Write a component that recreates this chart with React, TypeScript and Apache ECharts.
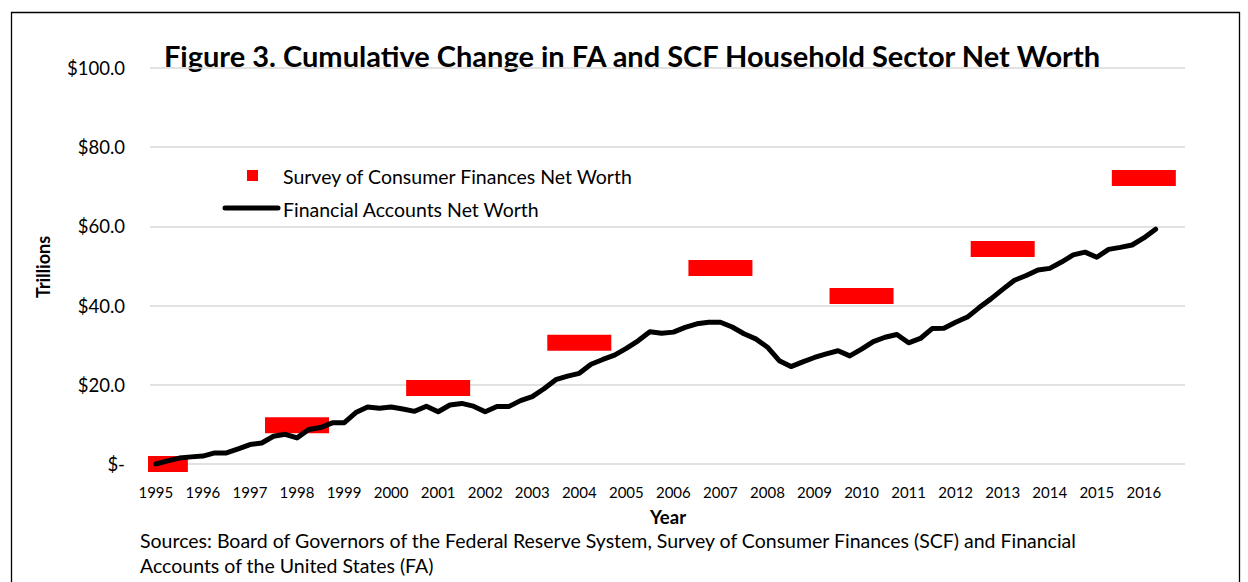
import React, { useEffect, useRef } from 'react';
import * as echarts from 'echarts';

const years = [
  '1995', '1996', '1997', '1998', '1999', '2000', '2001', '2002', '2003', '2004', '2005',
  '2006', '2007', '2008', '2009', '2010', '2011', '2012', '2013', '2014', '2015', '2016',
];
const quarterNames = ['Q1', 'Q2', 'Q3', 'Q4'];
const categories = years.flatMap((y) => quarterNames.map((q) => `${y}${q}`));

// Financial Accounts cumulative change in net worth, quarterly from 1995Q1 ($ trillions)
const faValues = [
  0, 0.8, 1.5, 1.8, 2.0, 2.8, 2.8, 3.8, 4.9, 5.3, 7.0, 7.5,
  6.6, 8.7, 9.2, 10.4, 10.4, 13.0, 14.4, 14.1, 14.4, 13.9, 13.3, 14.6,
  13.2, 14.9, 15.3, 14.6, 13.2, 14.5, 14.5, 16.0, 17.0, 19.0, 21.3, 22.2,
  22.9, 25.2, 26.4, 27.5, 29.2, 31.1, 33.4, 33.0, 33.3, 34.5, 35.4, 35.8,
  35.8, 34.6, 32.9, 31.6, 29.5, 26.1, 24.6, 25.8, 26.9, 27.8, 28.6, 27.3,
  29.0, 30.9, 32.0, 32.7, 30.6, 31.7, 34.2, 34.3, 35.8, 37.1, 39.5, 41.7,
  44.1, 46.4, 47.6, 49.0, 49.4, 51.0, 52.8, 53.5, 52.2, 54.2, 54.7, 55.3,
  57.1, 59.3,
];

// Survey of Consumer Finances cumulative change in net worth ($ trillions)
const scfYears = ['1995', '1998', '2001', '2004', '2007', '2010', '2013', '2016'];
const scfValues = [0, 9.8, 19.2, 30.6, 49.5, 42.4, 54.3, 72.2];

const yMin = 0;
const yMax = 100;
const yStep = 20;

const titleText = 'Figure 3. Cumulative Change in FA and SCF Household Sector Net Worth';
const scfName = 'Survey of Consumer Finances Net Worth';
const faName = 'Financial Accounts Net Worth';
const yName = 'Trillions';
const xName = 'Year';
const sourceLines = [
  'Sources: Board of Governors of the Federal Reserve System, Survey of Consumer Finances (SCF) and Financial',
  'Accounts of the United States (FA)',
];

const FONT = 'Lato, "Open Sans", sans-serif';

export default function App() {
  const ref = useRef<HTMLDivElement>(null);

  useEffect(() => {
    const chart = echarts.init(ref.current as HTMLDivElement, null, { renderer: 'svg' });
    const scfData = scfYears.map((y, k) => [categories.indexOf(y + 'Q1'), scfValues[k]]);

    chart.setOption({
      animation: false,
      backgroundColor: '#ffffff',
      grid: { left: 150, right: 63, top: 68, bottom: 118, containLabel: false },
      xAxis: {
        type: 'category',
        data: categories,
        boundaryGap: true,
        axisLine: { show: false },
        axisTick: { show: false },
        splitLine: { show: false },
        axisLabel: {
          interval: 3,
          formatter: (v: string) => v.slice(0, 4),
          fontFamily: FONT,
          fontSize: 15,
          color: '#000',
          margin: 20,
        },
      },
      yAxis: {
        type: 'value',
        min: yMin,
        max: yMax,
        interval: yStep,
        axisLine: { show: false },
        axisTick: { show: false },
        axisLabel: {
          formatter: (v: number) => (v === 0 ? '$-' : '$' + v.toFixed(1)),
          fontFamily: FONT,
          fontSize: 18.5,
          color: '#000',
          margin: 25,
        },
        splitLine: { lineStyle: { color: '#d9d9d9', width: 1.5 } },
      },
      series: [
        {
          name: scfName,
          type: 'custom',
          data: scfData,
          encode: { x: 0, y: 1 },
          z: 2,
          renderItem: (params: any, api: any) => {
            const c = api.coord([api.value(0), api.value(1)]);
            const cs = params.coordSys;
            const shape = echarts.graphic.clipRectByRect(
              { x: c[0] - 32, y: c[1] - 8, width: 64, height: 16 },
              { x: cs.x - 2, y: cs.y - 10, width: cs.width + 4, height: cs.height + 20 }
            );
            if (!shape) return null;
            return { type: 'rect', shape, style: { fill: '#ff0000' } };
          },
        },
        {
          name: faName,
          type: 'line',
          data: faValues,
          symbol: 'none',
          z: 3,
          lineStyle: { color: '#000000', width: 5, join: 'round', cap: 'round' },
        },
      ],
      graphic: [
        {
          type: 'rect',
          shape: { x: 11.5, y: 12.5, width: 1228, height: 640 },
          style: { fill: 'none', stroke: '#000', lineWidth: 1.3 },
          z: 10,
        },
        {
          type: 'text',
          x: 632,
          y: 55,
          style: {
            text: titleText,
            fontFamily: FONT,
            fontSize: 29,
            fontWeight: 'bold',
            fill: '#000',
            align: 'center',
            verticalAlign: 'middle',
          },
        },
        {
          type: 'rect',
          shape: { x: 247, y: 170, width: 11, height: 11 },
          style: { fill: '#ff0000' },
        },
        {
          type: 'text',
          x: 283,
          y: 176,
          style: { text: scfName, fontFamily: FONT, fontSize: 19.5, fill: '#000', align: 'left', verticalAlign: 'middle' },
        },
        {
          type: 'line',
          shape: { x1: 225, y1: 208, x2: 278, y2: 208 },
          style: { stroke: '#000', lineWidth: 5, lineCap: 'round' },
        },
        {
          type: 'text',
          x: 283,
          y: 209,
          style: { text: faName, fontFamily: FONT, fontSize: 19.5, fill: '#000', align: 'left', verticalAlign: 'middle' },
        },
        {
          type: 'text',
          x: 43,
          y: 267,
          rotation: Math.PI / 2,
          style: {
            text: yName,
            fontFamily: FONT,
            fontSize: 18,
            fontWeight: 'bold',
            fill: '#000',
            align: 'center',
            verticalAlign: 'middle',
          },
        },
        {
          type: 'text',
          x: 668,
          y: 517,
          style: {
            text: xName,
            fontFamily: FONT,
            fontSize: 18.5,
            fontWeight: 'bold',
            fill: '#000',
            align: 'center',
            verticalAlign: 'middle',
          },
        },
        {
          type: 'text',
          x: 140,
          y: 540,
          style: { text: sourceLines[0], fontFamily: FONT, fontSize: 19.5, fill: '#000', align: 'left', verticalAlign: 'middle' },
        },
        {
          type: 'text',
          x: 140,
          y: 565,
          style: { text: sourceLines[1], fontFamily: FONT, fontSize: 19.5, fill: '#000', align: 'left', verticalAlign: 'middle' },
        },
      ],
    });

    return () => chart.dispose();
  }, []);

  return <div ref={ref} style={{ position: 'fixed', left: 0, top: 0, width: 1248, height: 582 }} />;
}
